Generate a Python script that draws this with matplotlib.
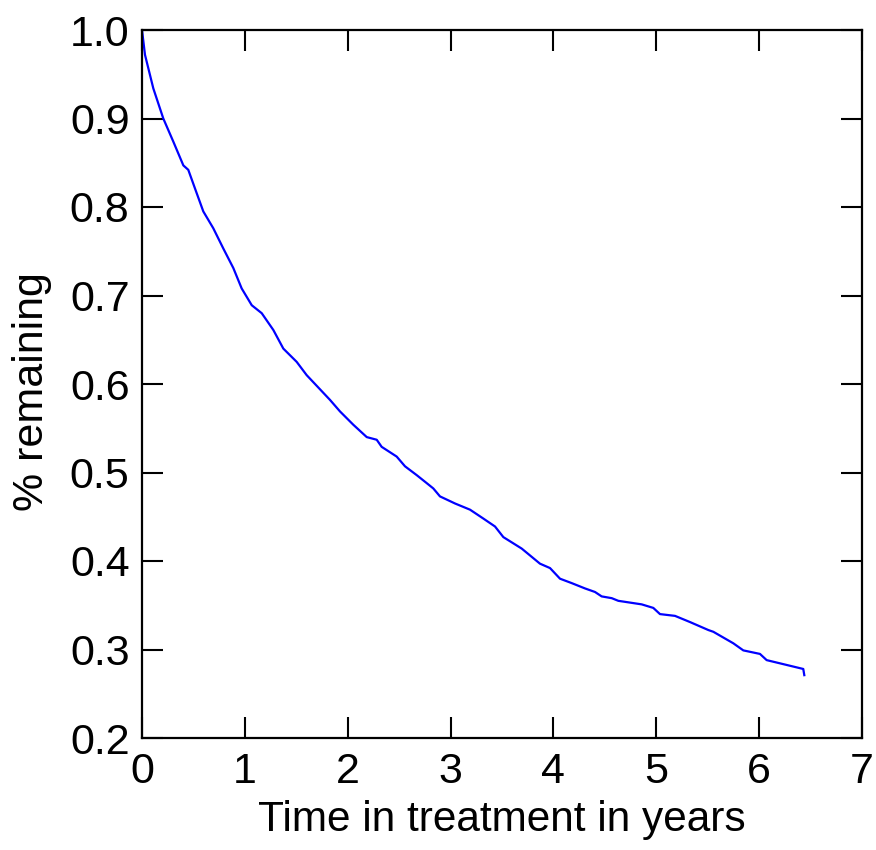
import matplotlib
matplotlib.use("Agg")
import matplotlib.pyplot as plt

plt.rcParams['font.family'] = ['Liberation Sans', 'DejaVu Sans']

t_years = [0.0, 0.029, 0.110, 0.207, 0.304, 0.402, 0.450, 0.515, 0.596, 0.693,
           0.791, 0.888, 0.969, 1.067, 1.164, 1.277, 1.374, 1.504, 1.601, 1.828,
           1.925, 2.054, 2.185, 2.282, 2.330, 2.476, 2.557, 2.671, 2.768, 2.832,
           2.897, 3.043, 3.189, 3.318, 3.432, 3.513, 3.692, 3.869, 3.967, 4.064,
           4.178, 4.307, 4.404, 4.469, 4.567, 4.631, 4.858, 4.971, 5.036, 5.182,
           5.328, 5.506, 5.555, 5.749, 5.846, 6.008, 6.073, 6.429, 6.439]
remaining = [1.000, 0.972, 0.934, 0.900, 0.874, 0.847, 0.842, 0.821, 0.795, 0.776,
             0.753, 0.731, 0.708, 0.689, 0.680, 0.661, 0.640, 0.625, 0.610, 0.582,
             0.569, 0.554, 0.540, 0.537, 0.529, 0.518, 0.507, 0.497, 0.488, 0.482,
             0.473, 0.465, 0.458, 0.448, 0.439, 0.427, 0.414, 0.397, 0.392, 0.380,
             0.375, 0.369, 0.365, 0.360, 0.358, 0.355, 0.351, 0.347, 0.340, 0.338,
             0.331, 0.322, 0.320, 0.307, 0.299, 0.295, 0.288, 0.278, 0.271]

x_ticks = [0, 1, 2, 3, 4, 5, 6, 7]
y_ticks = [0.2, 0.3, 0.4, 0.5, 0.6, 0.7, 0.8, 0.9, 1.0]
y_ticklabels = ['0.2', '0.3', '0.4', '0.5', '0.6', '0.7', '0.8', '0.9', '1.0']

fig = plt.figure(figsize=(8.76, 8.5), dpi=100)
ax = fig.add_axes([142/876, 1-738/850, 720/876, 708/850])
ax.plot(t_years, remaining, color='#0000ff', lw=1.6)
ax.set_xlim(0, 7)
ax.set_ylim(0.2, 1.0)
ax.set_xticks(x_ticks)
ax.set_xticklabels([str(v) for v in x_ticks])
ax.set_yticks(y_ticks)
ax.set_yticklabels(y_ticklabels)
ax.tick_params(direction='in', length=15, width=1.5, top=True, right=True,
               labelsize=31, colors='black')
ax.tick_params(axis='y', pad=9)
ax.tick_params(axis='x', pad=10)
for s in ax.spines.values():
    s.set_linewidth(1.6)
ax.set_xlabel('Time in treatment in years', fontsize=30.5, labelpad=6)
ax.set_ylabel('% remaining', fontsize=31)
ax.yaxis.set_label_coords(-0.125, 0.49)
fig.savefig('out.png', dpi=100)
